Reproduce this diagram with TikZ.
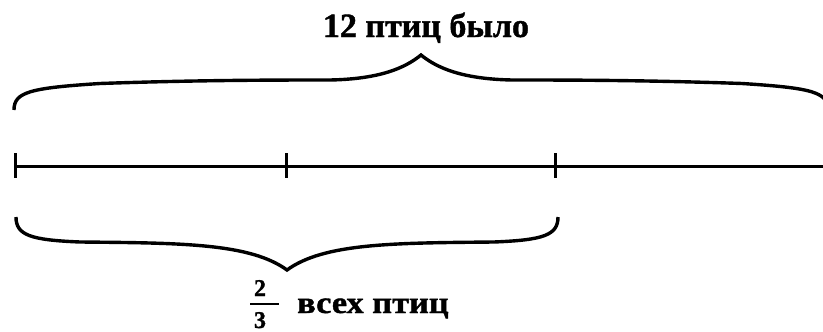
\documentclass[tikz,border=0pt]{standalone}
\usepackage{fontspec}
\setmainfont{Liberation Serif}[BoldFeatures={FakeBold=1.2}]
\begin{document}
\begin{tikzpicture}[x=1pt,y=-1pt,
  brace/.style={line width=3.4pt, line cap=butt},
  axisline/.style={line width=3pt},
  tickmark/.style={line width=3pt},
  lbl/.style={inner sep=0pt, font=\bfseries}]
\clip (0,0) rectangle (823,332);
% segment
\coordinate (p0) at (15,166);
\coordinate (p1) at (286,166);
\coordinate (p2) at (555,166);
\coordinate (pend) at (830,166);
\draw[axisline] (p0) -- (pend);
\foreach \p in {p0,p1,p2} \draw[tickmark] (\p) ++(0,-13) -- ++(0,25);
% top brace
\coordinate (tl) at (14,110);
\coordinate (tt) at (421,55);
\coordinate (tr) at (828,110);
\draw[brace] (tl) .. controls (14,92) and (30,88) .. (100,83.5)
  .. controls (200,80) and (280,80) .. (330,80)
  .. controls (380,79) and (405,68) .. (tt)
  .. controls (437,68) and (462,79) .. (512,80)
  .. controls (562,80) and (642,80) .. (742,83.5)
  .. controls (812,88) and (828,92) .. (tr);
% bottom brace
\coordinate (bl) at (16,217);
\coordinate (bt) at (287,270);
\coordinate (br) at (558,217);
\draw[brace] (bl) .. controls (16,235) and (30,240) .. (80,242)
  .. controls (180,243) and (250,243) .. (bt)
  .. controls (324,243) and (394,243) .. (494,242)
  .. controls (544,240) and (558,235) .. (br);
% labels
\node[lbl, anchor=base, font=\bfseries\fontsize{34}{40}\selectfont] (top) at (426,37) {12 птиц было};
\node[lbl, anchor=base west, font=\bfseries\fontsize{31}{36}\selectfont] (all) at (297,313) {\scalebox{1.11}[1]{всех птиц}};
\node[lbl, anchor=base, font=\bfseries\fontsize{24}{28}\selectfont] (num) at (260,296) {2};
\node[lbl, anchor=base, font=\bfseries\fontsize{24}{28}\selectfont] (den) at (260,328) {3};
\coordinate (fa) at (250,304);
\coordinate (fb) at (279,304);
\draw[line width=1.6pt] (fa) -- (fb);
\end{tikzpicture}
\end{document}
